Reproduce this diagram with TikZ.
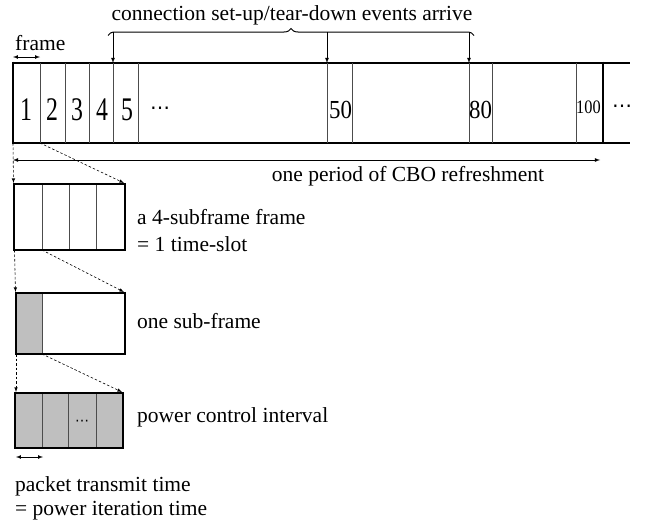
\documentclass[tikz,border=0pt]{standalone}
\usepackage{fontspec}
\setmainfont{Liberation Serif}
\newfontfamily\symfont{DejaVu Sans}
\usetikzlibrary{decorations.pathreplacing}
\begin{document}
\begin{tikzpicture}[x=1pt,y=-1pt,color=black,>=latex,
  every node/.style={inner sep=0pt},
  txt/.style={anchor=base west,font=\fontsize{21.5}{24}\selectfont},
  num/.style={anchor=base,font=\fontsize{33}{33}\selectfont},
  numsmall/.style={anchor=base west,font=\fontsize{26}{26}\selectfont},
  dots/.style={font=\symfont\fontsize{20}{20}\selectfont},
  edge/.style={line width=2.6pt},
  boxline/.style={line width=2.2pt},
  sep/.style={line width=0.9pt,black!70},
  zoomed/.style={->,line width=0.6pt,dash pattern=on 2.5pt off 2pt},
  slot/.style={fill=black!25}]
\useasboundingbox (0,0) rectangle (659,522);

% the frame bar
\coordinate (TL) at (13,63);
\coordinate (TR) at (630,63);
\coordinate (BL) at (13,143);
\coordinate (BR) at (630,143);
\draw[edge] (TL) -- (TR);
\draw[edge] (BL) -- (BR);
\draw[edge] (13,61.7) -- (13,144.3);
\draw[edge] (603,61.7) -- (603,144.3);
\foreach \x in {40,65,89,113,138,327,352,469,492,576}
  \draw[sep] (\x,63) -- (\x,143);

\node(N1) [num] at (26,120) {\scalebox{0.72}[1]{1}};
\node(N2) [num] at (52,120) {\scalebox{0.72}[1]{2}};
\node(N3) [num] at (77,120) {\scalebox{0.72}[1]{3}};
\node(N4) [num] at (102,120) {\scalebox{0.72}[1]{4}};
\node(N5) [num] at (127,120) {\scalebox{0.72}[1]{5}};
\node(D1) [dots] at (160,111) {⋯};
\node(N50) [numsmall] at (329,118) {\scalebox{0.88}[1]{50}};
\node(N80) [numsmall] at (469,118) {\scalebox{0.88}[1]{80}};
\node(N100) [anchor=base west,font=\fontsize{19}{19}\selectfont] at (576,113) {\scalebox{0.86}[1]{100}};
\node(D2) [dots] at (622,109) {⋯};

% frame length
\coordinate (FA) at (13,57);
\coordinate (FB) at (40,57);
\draw[<->,line width=0.7pt] (FA) -- (FB);
\node(frame) [txt] at (15,50) {frame};

% connection events
\node(events) [txt,anchor=base] at (292,20) {connection set-up/tear-down events arrive};
\draw[decorate,decoration={brace,amplitude=7pt},line width=1pt] (108,35.5) -- (474,35.5);
\coordinate (E1) at (113,32);
\coordinate (E2) at (327,32);
\coordinate (E3) at (469,32);
\draw[->,line width=0.8pt] (E1) -- (113,63);
\draw[->,line width=0.8pt] (E2) -- (327,63);
\draw[->,line width=0.8pt] (E3) -- (469,63);

% CBO period
\coordinate (PA) at (13,160);
\coordinate (PB) at (600,160);
\draw[<->,line width=0.8pt] (PA) -- (PB);
\node(period) [txt,anchor=base] at (408,181) {one period of CBO refreshment};

% one frame
\coordinate (F1) at (14,184);
\coordinate (F2) at (125,250);
\draw[zoomed] (13,143) -- (13.5,183);
\draw[zoomed] (40,143) -- (124,183);
\draw[sep] (42,184) -- (42,250);
\draw[sep] (69,184) -- (69,250);
\draw[sep] (96,184) -- (96,250);
\draw[boxline] (F1) rectangle (F2);
\node(slotA) [txt] at (137,224) {a 4-subframe frame};
\node(slotB) [txt] at (137,251) {= 1 time-slot};

% one sub-frame
\coordinate (S1) at (16,293);
\coordinate (S2) at (125,354);
\draw[zoomed] (14.5,250) -- (15.5,292);
\draw[zoomed] (42,250) -- (124,292);
\fill[slot] (S1) rectangle (42,354);
\draw[sep] (42,293) -- (42,354);
\draw[boxline] (S1) rectangle (S2);
\node(sub) [txt] at (137,328) {one sub-frame};

% power control interval
\coordinate (P1) at (15,393);
\coordinate (P2) at (123,448);
\draw[zoomed] (16,354) -- (16,392);
\draw[zoomed] (42,354) -- (122,392);
\fill[slot] (P1) rectangle (P2);
\draw[sep] (42,393) -- (42,448);
\draw[sep] (68,393) -- (68,448);
\draw[sep] (96,393) -- (96,448);
\draw[boxline] (P1) rectangle (P2);
\node(D3) [font=\symfont\fontsize{14}{14}\selectfont] at (82,423) {⋯};
\node(pci) [txt] at (137,422) {power control interval};

% packet time
\coordinate (KA) at (16,457);
\coordinate (KB) at (43,457);
\draw[<->,line width=0.7pt] (KA) -- (KB);
\node(pkt) [txt] at (15,491) {packet transmit time};
\node(iter) [txt] at (15,515) {= power iteration time};
\end{tikzpicture}
\end{document}
